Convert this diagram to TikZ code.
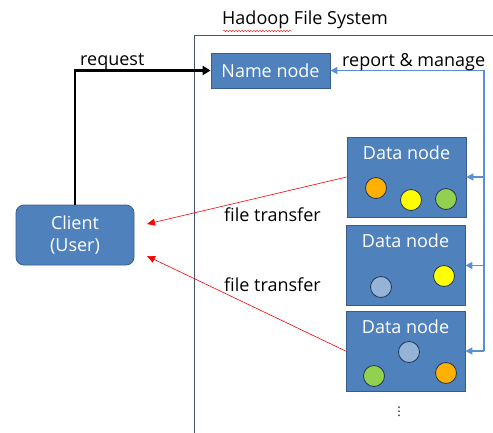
\documentclass[tikz,border=0pt]{standalone}
\usepackage{fontspec}
\setmainfont{Open Sans}
\newfontfamily\symfont{DejaVu Sans}
\usetikzlibrary{arrows.meta}
\usetikzlibrary{positioning}
\usetikzlibrary{decorations.pathmorphing}
\definecolor{boxblue}{HTML}{4F81BD}
\definecolor{boxedge}{HTML}{385D8A}
\definecolor{linkblue}{HTML}{5B8FD3}
\definecolor{frame}{HTML}{44546A}
\definecolor{dotorange}{HTML}{FFB000}
\definecolor{dotyellow}{HTML}{FFFF00}
\definecolor{dotgreen}{HTML}{92D050}
\definecolor{dotblue}{HTML}{95B3D7}
\tikzset{
	>=Triangle,
	txt/.style={font=\fontsize{18}{20}\selectfont, inner sep=0pt},
	hdfsbox/.style={
		rectangle,
		fill=boxblue,
		draw=boxedge, thick,
		text=white,
		font=\fontsize{18}{20}\selectfont},
	namebox/.style={hdfsbox, minimum width=119pt, minimum height=35pt},
	databox/.style={hdfsbox, minimum width=119pt, minimum height=80pt},
	clientbox/.style={hdfsbox, rounded corners=8pt, align=center,
		minimum width=118pt, minimum height=60pt, font=\fontsize{18}{22}\selectfont},
	block/.style={circle, draw=boxedge!60!black, thick, minimum size=21pt, inner sep=0pt},
	req/.style={draw, line width=2.2pt, -{Triangle[length=8pt,width=9pt]}},
	manage/.style={draw=linkblue, line width=1.6pt, -{Triangle[length=7pt,width=7pt]}},
	transfer/.style={draw=red, line width=0.6pt, -{Triangle[length=8pt,width=7pt]}},
}
\begin{document}
\begin{tikzpicture}[x=1pt, y=-1pt]
	\useasboundingbox (0,0) rectangle (493,432);
	% file system frame
	\draw[frame, line width=0.9pt] (493,35) -- (194,35) -- (194,440);
	\node[txt, anchor=west] (hfs) at (222,20) {Hadoop File System};
	\draw[red!80, line width=0.5pt, decorate, decoration={snake, amplitude=0.8pt, segment length=3pt}]
		(223,31) -- (292,31);

	\node[namebox] (name) at (270.5,70.5) {Name node};
	\node[clientbox] (client) at (75,235) {Client\\(User)};

	\node[databox] (dn1) at (406.5,177) {};
	\node[databox] (dn2) at (405.5,265.5) {};
	\node[databox] (dn3) at (405.5,351) {};
	\foreach \d in {dn1,dn2,dn3}
		\node[txt, text=white, below=9pt of \d.north] {Data node};

	\node[block, fill=dotorange] (b11) at (376,188) {};
	\node[block, fill=dotyellow] (b12) at (411,200) {};
	\node[block, fill=dotgreen]  (b13) at (446,199) {};
	\node[block, fill=dotblue]   (b21) at (381,287) {};
	\node[block, fill=dotyellow] (b22) at (444,276) {};
	\node[block, fill=dotblue]   (b31) at (409,352) {};
	\node[block, fill=dotgreen]  (b32) at (374,376) {};
	\node[block, fill=dotorange] (b33) at (446,373) {};
	\node[inner sep=0pt, font=\symfont\fontsize{12}{12}\selectfont] (more) at (399,412) {⋮};

	% request
	\path[req] (client.north) |- (name.west);
	\node[txt, anchor=west] (reqlbl) at (80,62) {request};

	% report & manage
	\coordinate (bus) at (484,351);
	\path[manage] (bus) |- (name.east);
	\foreach \d in {dn1,dn2,dn3}
		\path[manage] (bus |- \d.east) -- (\d.east);
	\node[txt, anchor=west] (replbl) at (342,62) {report \& manage};

	% file transfer
	\coordinate (in1) at (147,224);
	\coordinate (in2) at (147,256);
	\path[transfer] (dn1.west) -- (in1);
	\path[transfer] (dn3.west) -- (in2);
	\node[txt, anchor=west] (ft1) at (224,215) {file transfer};
	\node[txt, anchor=west] (ft2) at (224,285) {file transfer};
\end{tikzpicture}
\end{document}
